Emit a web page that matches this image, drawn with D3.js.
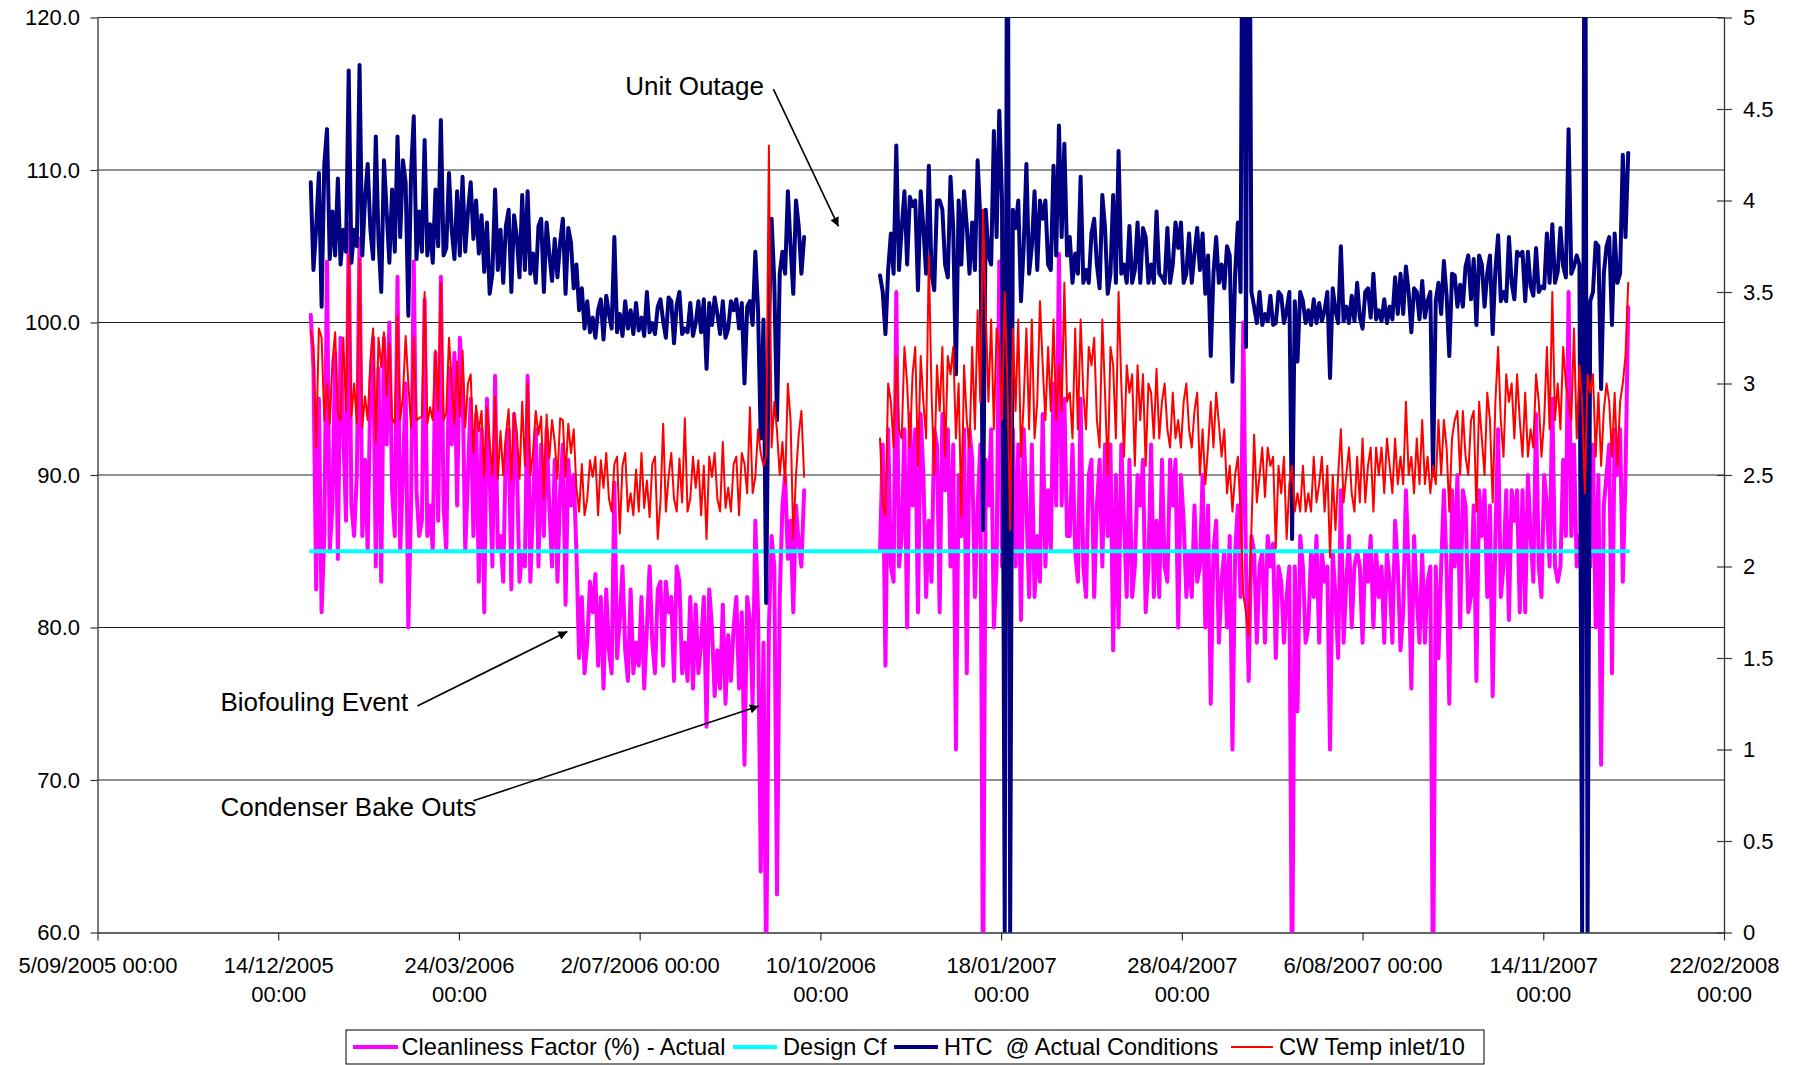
<!DOCTYPE html>
<html><head><meta charset="utf-8">
<script src="https://cdn.jsdelivr.net/npm/d3@7"></script>
<style>
html,body{margin:0;padding:0;background:#fff;}
svg{display:block;font-family:"Liberation Sans",Arial,sans-serif;}
</style></head><body>
<svg id="chart" width="1798" height="1065"></svg>
<script>
// ---------- data ----------
const axisStart = "2005-09-05";
const axisEnd = "2008-02-22";
const xTickDates = ["2005-09-05","2005-12-14","2006-03-24","2006-07-02","2006-10-10","2007-01-18","2007-04-28","2007-08-06","2007-11-14","2008-02-22"];
const xTickLabels = [["5/09/2005 00:00"],["14/12/2005","00:00"],["24/03/2006","00:00"],["2/07/2006 00:00"],["10/10/2006","00:00"],["18/01/2007","00:00"],["28/04/2007","00:00"],["6/08/2007 00:00"],["14/11/2007","00:00"],["22/02/2008","00:00"]];
const leftTicks = [60,70,80,90,100,110,120];
const rightTicks = [0,0.5,1,1.5,2,2.5,3,3.5,4,4.5,5];
const seriesNames = ["Cleanliness Factor (%) - Actual","Design Cf","HTC  @ Actual Conditions","CW Temp inlet/10"];
// readings every 3 days, plus a reading midway (36 h later) between each pair
const stepDays = 3;
const seg1Start = "2006-01-01";
const seg2Start = "2006-11-12";

// Cleanliness factor (%), left axis
const cf1 = [100.5,82.5,81,104,88,84.5,93,106.5,86,105.5,
 91,96,84,83,92,89,103,90,80,104,
 86,101.5,88,98,103,85,92,88,96,90,
 86,83,81,90,96.5,86,92,82.5,91,85,
 96.5,88,84,86,88,91,89,81.5,88,85,
 82,79,81,77.5,76,78.5,89.5,80.5,78.5,82.5,
 79,82,80,79,82.5,77.5,81,76.5,83,79,
 82,81.5,79,73.5,80,78.5,81.5,79.5,80,76,
 71,80.5,87,64,57,86,62.5,88,84.5,81,
 85.5,89];
const cfMid1 = [97,95,86,85,98,99,87,88,90,86,
 85,99,97,99,100,86,85,96,88,89,
 87,86,85,87,88,97,98,99,85,95,
 94,93,95,84,85,83,93,94,83,84,
 83,93,92,93,84,83,92,91,90,78,
 77,83,83.5,82,82.5,77,78,84,76.5,77,
 77.5,76,84,77,83,83,82,84,77,76.5,
 76,77,82,82.5,75.5,76,75,76.5,82,81,
 82,75,81,79,80,84,82,90,87,88,
 84];
const cf2 = [85,77.5,84,102,86,80,88,81,90,87,
 93,81,89,84,72,86,77,91,88,55,
 88,80,104,90,86,84,80.5,88,92,86,
 94,89,96,104.5,95,86,85,95,82,91,
 88,84,86,78.5,80,87,91,84,88,81,
 92,87,91,83,88,80,87,85,88,84,
 80,75,87,83,80,72,88,100,76.5,85,
 84,79,84,78,83,82,55,74.5,84,80,
 82,79,83,72,82,89,83,80,85,79,
 83,80,82,79,83,87,78.5,89,76,82,
 85,83,55,78,89,75,84,80,88,82,
 76.5,86,82,75.5,93,84,80.5,87,81,81,
 86,94,82,88,95,83,91,102,92,86,
 91,84,80,71,90,77,90,83,101];
const cfMid2 = [92,93,83,84,93,94,93,94,82,83,
 92,94,93,92,90,93,93,82,92,91,
 93,84,84,82,93,92,93,82,82,83,
 84,85,88,88,86,92,83,84,90,82,
 91,92,92,90,92,82,82,90,91,84,
 82,82,84,91,91,90,82,82,83,90,
 88,85,79,85,86,85,82,84,86,79,
 85,86,85.5,84,79,84,84,86,79,85,
 86,85,84,85,78,79,86,84,84,85,
 86,85,84,85,79,84,81,84,86,79,
 79,84,84,84,84,89,90,89,81,88,
 89,89,88,86,82,89,89,89,89,90,
 83,84,90,84,84,84,86,86,84,84,
 92,92,90,88,92,93,93,90];

// HTC @ actual conditions, right axis
const htc1 = [4.1,3.85,3.42,4.39,3.94,4.12,3.84,4.71,3.84,4.74,
 4.0,3.84,4.35,3.5,3.94,4.06,4.35,4.22,3.37,4.46,
 3.94,4.33,3.87,4.06,4.44,3.74,3.84,4.05,4.13,3.94,
 3.79,3.71,3.61,3.49,4.06,3.84,3.86,3.5,3.8,4.03,
 4.05,3.71,3.86,3.5,3.71,3.79,3.77,3.49,3.77,3.65,
 3.52,3.45,3.36,3.4,3.24,3.38,3.8,3.38,3.45,3.4,
 3.44,3.36,3.5,3.33,3.42,3.34,3.47,3.22,3.5,3.3,
 3.44,3.33,3.28,3.08,3.32,3.38,3.45,3.3,3.4,3.3,
 3.0,3.45,3.72,2.7,1.8,3.9,2.8,3.72,4.05,3.49,
 3.86,3.8];
const htcMid1 = [3.62,4.15,4.2,3.68,3.7,3.65,3.72,3.66,3.75,3.7,
 4.2,3.68,3.78,4.22,3.66,3.72,3.8,4.1,4.15,3.68,
 3.72,3.7,3.66,3.75,3.7,4.15,3.68,3.7,3.72,4.1,
 4.0,3.92,3.88,3.6,3.62,3.55,3.95,3.92,3.58,3.62,
 3.6,3.55,3.9,3.88,3.56,3.58,3.9,3.85,3.52,3.4,
 3.3,3.28,3.25,3.46,3.48,3.3,3.28,3.26,3.3,3.27,
 3.29,3.26,3.28,3.27,3.46,3.25,3.45,3.43,3.27,3.28,
 3.26,3.45,3.46,3.44,3.47,3.27,3.25,3.45,3.46,3.44,
 3.42,3.32,3.4,3.35,3.3,3.55,3.6,3.6,3.75,4.0,
 3.6];
const htc2 = [3.59,3.27,3.82,4.3,3.85,3.65,3.97,3.51,3.85,4.19,
 3.51,4.0,3.65,4.13,3.05,3.65,3.86,3.88,4.22,2.2,
 3.7,4.38,4.49,0,0,3.85,3.45,4.2,3.75,3.62,
 3.9,3.65,4.19,4.41,4.31,3.8,3.71,4.13,3.62,3.82,
 3.65,4.03,3.49,4.03,4.27,3.65,3.86,3.62,3.55,3.8,
 3.65,3.94,3.58,3.85,3.65,3.74,3.55,3.82,3.71,3.62,
 3.49,3.15,3.8,3.65,3.75,3.01,3.88,7,7,3.42,
 3.5,3.38,3.48,3.33,3.48,3.4,2.15,3.12,3.45,3.4,
 3.46,3.44,3.4,3.03,3.4,3.75,3.42,3.48,3.55,3.3,
 3.52,3.6,3.4,3.46,3.42,3.58,3.6,3.64,3.28,3.5,
 3.56,3.45,2.5,3.55,3.67,3.15,3.59,3.54,3.64,3.46,
 3.32,3.65,3.6,3.27,3.81,3.5,3.8,3.46,3.7,3.45,
 3.53,3.74,3.53,3.82,3.87,3.61,3.64,4.39,3.64,3.65,
 7,3.45,3.77,2.97,3.75,3.32,3.55,4.25,4.26];
const htcMid2 = [3.5,3.62,3.6,3.62,4.05,4.02,4.0,4.05,3.6,3.6,
 4.0,3.95,3.58,3.85,4.0,4.05,3.6,3.62,3.9,3.95,
 3.65,3.8,4.0,7,3.95,4.0,3.75,3.6,4.05,4.0,
 4.0,3.62,3.7,3.8,3.7,3.55,3.6,3.55,3.55,3.9,
 3.52,3.85,3.6,3.55,3.6,3.55,3.55,3.88,3.85,3.55,
 3.55,3.6,3.55,3.55,3.88,3.88,3.6,3.55,3.85,3.82,
 3.7,3.6,3.55,3.52,3.7,3.6,3.5,3.2,3.5,3.33,
 3.32,3.34,3.32,3.5,3.33,3.5,3.45,3.5,3.33,3.32,
 3.33,3.34,3.5,3.52,3.33,3.34,3.33,3.34,3.36,3.5,
 3.36,3.35,3.34,3.33,3.35,3.38,3.38,3.5,3.52,3.35,
 3.36,3.5,3.45,3.38,3.48,3.6,3.42,3.42,3.7,3.68,
 3.7,3.42,3.7,3.62,3.45,3.45,3.55,3.72,3.72,3.72,
 3.48,3.5,3.52,3.55,3.55,3.85,3.58,3.6,3.7,0,
 0,3.5,3.75,3.6,3.8,3.82,3.6,3.8];

// CW temp inlet / 10, right axis
const cw1 = [3.29,2.65,3.25,3.0,3.12,2.84,3.25,3.7,3.0,3.68,
 2.93,3.12,2.68,3.09,2.93,2.81,3.37,2.93,3.0,3.25,
 2.81,3.5,2.87,3.18,3.55,2.84,3.0,3.12,3.18,3.0,
 2.62,2.74,2.49,2.68,2.93,2.74,2.72,2.47,2.74,2.9,
 3.0,2.62,2.72,2.37,2.59,2.68,2.81,2.49,2.62,2.43,
 2.56,2.37,2.49,2.28,2.43,2.37,2.56,2.18,2.62,2.4,
 2.53,2.62,2.47,2.56,2.15,2.78,2.49,2.37,2.59,2.81,
 2.37,2.43,2.28,2.15,2.49,2.37,2.68,2.43,2.56,2.28,
 2.56,2.87,2.49,2.62,2.6,2.65,2.74,2.68,3.0,2.15,
 2.72,2.49];
const cwMid1 = [3.2,3.3,2.8,2.78,3.28,2.8,2.85,2.82,2.78,2.76,
 2.8,3.3,3.25,3.28,3.22,2.78,2.8,3.26,2.76,2.8,
 2.82,2.78,2.8,2.85,2.8,3.25,2.78,2.82,2.76,3.05,
 2.88,2.85,2.87,2.5,2.48,2.5,2.86,2.84,2.48,2.55,
 2.5,2.85,2.82,2.83,2.8,2.48,2.8,2.78,2.75,2.3,
 2.28,2.58,2.6,2.58,2.62,2.3,2.6,2.55,2.3,2.28,
 2.3,2.32,2.27,2.6,2.35,2.3,2.62,2.3,2.35,2.3,
 2.6,2.58,2.55,2.6,2.62,2.3,2.32,2.3,2.6,2.62,
 2.4,2.4,2.75,2.55,4.3,2.9,2.5,2.45,2.8,2.5,
 2.85];
const cw2 = [2.7,2.28,2.9,3.15,2.7,3.0,3.05,2.55,2.9,3.7,
 2.5,2.85,2.6,3.05,2.7,2.27,2.8,3.2,3.4,3.95,
 2.9,2.75,3.2,3.5,2.2,2.85,2.6,3.3,3.35,2.9,
 3.1,3.2,3.35,3.1,3.55,2.95,3.3,3.35,2.75,3.1,
 2.8,3.35,2.5,3.1,3.5,2.6,2.95,2.55,2.8,2.55,
 2.95,3.08,2.9,2.75,2.95,2.8,2.9,2.75,2.85,2.5,
 2.45,2.9,2.95,2.6,2.4,2.3,2.6,1.85,1.62,2.72,
 2.5,2.38,2.55,2.1,2.4,2.15,2.55,2.4,2.55,2.4,
 2.6,2.45,2.3,2.05,2.2,2.75,2.5,2.4,2.6,2.7,
 2.55,2.3,2.5,2.4,2.55,2.7,2.6,2.9,2.6,2.7,
 2.8,2.6,2.55,2.8,2.8,2.3,2.8,2.5,2.6,2.8,
 2.3,2.7,2.95,2.35,3.2,2.6,2.9,2.7,2.8,2.95,
 2.75,3.05,2.6,3.2,3.5,3.0,3.2,2.9,3.3,3.1,
 2.4,2.95,2.6,2.55,3.0,2.6,2.55,3.0,3.55];
const cwMid2 = [2.35,3.0,2.65,2.75,3.2,2.65,3.2,3.15,2.7,2.95,
 3.1,3.2,3.15,3.2,3.0,3.1,2.65,2.75,2.9,3.4,
 3.35,3.3,2.8,3.0,3.3,3.35,2.9,2.75,2.7,3.45,
 2.8,2.85,2.8,2.85,2.9,2.7,2.75,2.95,3.2,3.25,
 2.65,2.95,3.2,2.7,3.0,3.1,3.05,3.1,3.05,3.0,
 2.7,2.7,3.0,2.65,2.7,2.65,3.0,2.65,2.95,2.75,
 2.65,2.65,2.78,2.75,2.55,2.5,2.3,1.75,2.2,2.35,
 2.65,2.65,2.6,2.55,2.6,2.45,2.3,2.3,2.3,2.3,
 2.35,2.6,2.55,2.5,2.5,2.35,2.65,2.3,2.35,2.35,
 2.65,2.65,2.65,2.7,2.4,2.45,2.45,2.5,2.4,2.45,
 2.45,2.4,2.45,2.5,2.65,2.7,2.85,2.85,2.5,2.85,
 2.9,2.5,2.8,2.9,2.8,3.05,3.0,3.05,2.6,2.6,
 2.65,2.9,2.8,2.75,2.8,2.75,3.0,2.8,2.7,2.9,
 3.05,3.05,2.95,2.85,2.9,2.95,2.9,3.15];

// Design Cf (constant line)
const designDates = ["2006-01-01","2007-12-31"];
const designValues = [85,85];

// annotations (date, value on left axis)
const annotations = [
  {text:"Unit Outage", at:["2006-06-24",114.95], from:["2006-09-14",115.3], to:["2006-10-20",106.3]},
  {text:"Biofouling Event", at:["2005-11-12",74.55], from:["2006-03-01",74.85], to:["2006-05-23",79.74]},
  {text:"Condenser Bake Outs", at:["2005-11-12",67.62], from:["2006-04-01",68.64], to:["2006-09-06",74.85]}
];

// ---------- drawing ----------
const L = 97.5, R = 1724, T = 17.5, B = 932.5;
const parse = d3.utcParse("%Y-%m-%d");
const x = d3.scaleUtc().domain([parse(axisStart), parse(axisEnd)]).range([L, R]);
const yL = d3.scaleLinear().domain([60,120]).range([B, T]);
const yR = d3.scaleLinear().domain([0,5]).range([B, T]);

function seg(start, values, mids){
  const s = parse(start);
  const out = [];
  values.forEach((v,i)=>{
    const d = d3.utcDay.offset(s, i*stepDays);
    out.push({date:d, v});
    if (i < mids.length) out.push({date:d3.utcHour.offset(d, stepDays*12), v:mids[i]});
  });
  return out;
}

const svg = d3.select("#chart");
const defs = svg.append("defs");
defs.append("clipPath").attr("id","plotclip")
  .append("rect").attr("x",L).attr("y",T).attr("width",R-L).attr("height",B-T);
const marker = defs.append("marker").attr("id","arrow")
  .attr("viewBox","0 0 10 10").attr("refX",10).attr("refY",5)
  .attr("markerWidth",14).attr("markerHeight",9).attr("markerUnits","userSpaceOnUse")
  .attr("orient","auto");
marker.append("path").attr("d","M0,0 L10,5 L0,10 z").attr("fill","#000");

// gridlines
svg.append("g").selectAll("line").data(leftTicks.filter(t=>t>60)).join("line")
  .attr("x1",L).attr("x2",R).attr("y1",d=>yL(d)).attr("y2",d=>yL(d))
  .attr("stroke","#222").attr("stroke-width",1);

const fontTick = 22;
const gl = svg.append("g").attr("transform",`translate(${L},0)`)
  .call(d3.axisLeft(yL).tickValues(leftTicks).tickFormat(d3.format(".1f")).tickSize(7).tickSizeOuter(0).tickPadding(10.5));
const gr = svg.append("g").attr("transform",`translate(${R},0)`)
  .call(d3.axisRight(yR).tickValues(rightTicks).tickFormat(d3.format("")).tickSize(8).tickSizeOuter(0).tickPadding(11));
gr.selectAll(".tick line").attr("x1",-7).attr("x2",8);
const parsedTicks = xTickDates.map(parse);
const gb = svg.append("g").attr("transform",`translate(0,${B})`)
  .call(d3.axisBottom(x).tickValues(parsedTicks).tickSize(8).tickSizeOuter(0).tickFormat(""));
gb.selectAll(".tick text").remove();
gb.selectAll(".tick").each(function(d,i){
  const t = d3.select(this).append("text").attr("text-anchor","middle").attr("fill","#000");
  xTickLabels[i].forEach((ln,k)=>{
    t.append("tspan").attr("x",0).attr("y",40.5 + k*28.5).text(ln);
  });
});
[gl,gr,gb].forEach(g=>{
  g.selectAll(".domain").attr("stroke","#333").attr("stroke-width",1.3);
  g.selectAll(".tick line").attr("stroke","#333").attr("stroke-width",1.2);
  g.selectAll("text").attr("font-size",fontTick).attr("fill","#000")
    .attr("font-family",'"Liberation Sans",Arial,sans-serif');
});

// series
const plot = svg.append("g").attr("clip-path","url(#plotclip)");
const lineL = d3.line().x(d=>x(d.date)).y(d=>yL(d.v));
const lineR = d3.line().x(d=>x(d.date)).y(d=>yR(d.v));
const styleLine = (p,c,w)=>p.attr("fill","none").attr("stroke",c).attr("stroke-width",w)
  .attr("stroke-linejoin","round").attr("stroke-linecap","round");

styleLine(plot.append("path").attr("d",lineL(seg(seg1Start,cf1,cfMid1))),"#ff00ff",4);
styleLine(plot.append("path").attr("d",lineL(seg(seg2Start,cf2,cfMid2))),"#ff00ff",4);
styleLine(plot.append("path").attr("d",lineL(designDates.map((d,i)=>({date:parse(d),v:designValues[i]})))),"#00ffff",4);
styleLine(plot.append("path").attr("d",lineR(seg(seg1Start,htc1,htcMid1))),"#000080",4);
styleLine(plot.append("path").attr("d",lineR(seg(seg2Start,htc2,htcMid2))),"#000080",4);
styleLine(plot.append("path").attr("d",lineR(seg(seg1Start,cw1,cwMid1))),"#ff0000",2);
styleLine(plot.append("path").attr("d",lineR(seg(seg2Start,cw2,cwMid2))),"#ff0000",2);

// annotations
const ga = svg.append("g");
annotations.forEach(a=>{
  ga.append("text").attr("x",x(parse(a.at[0]))).attr("y",yL(a.at[1]))
    .attr("font-size",26).attr("fill","#000").text(a.text);
  ga.append("line").attr("x1",x(parse(a.from[0]))).attr("y1",yL(a.from[1]))
    .attr("x2",x(parse(a.to[0]))).attr("y2",yL(a.to[1]))
    .attr("stroke","#000").attr("stroke-width",1.6).attr("marker-end","url(#arrow)");
});

// legend
const leg = svg.append("g");
leg.append("rect").attr("x",346).attr("y",1030).attr("width",1138).attr("height",34)
  .attr("fill","#fff").attr("stroke","#000").attr("stroke-width",1);
const legItems = [
  {name:seriesNames[0], color:"#ff00ff", w:4, x1:353, x2:398, tx:401.5},
  {name:seriesNames[1], color:"#00ffff", w:4, x1:733, x2:777, tx:783},
  {name:seriesNames[2], color:"#000080", w:4, x1:894, x2:938, tx:944},
  {name:seriesNames[3], color:"#ff0000", w:2, x1:1231, x2:1273, tx:1279}
];
legItems.forEach(it=>{
  leg.append("line").attr("x1",it.x1).attr("x2",it.x2).attr("y1",1047).attr("y2",1047)
    .attr("stroke",it.color).attr("stroke-width",it.w);
  leg.append("text").attr("x",it.tx).attr("y",1055).attr("font-size",23.6)
    .style("white-space","pre").attr("fill","#000").text(it.name);
});
</script>
</body></html>
